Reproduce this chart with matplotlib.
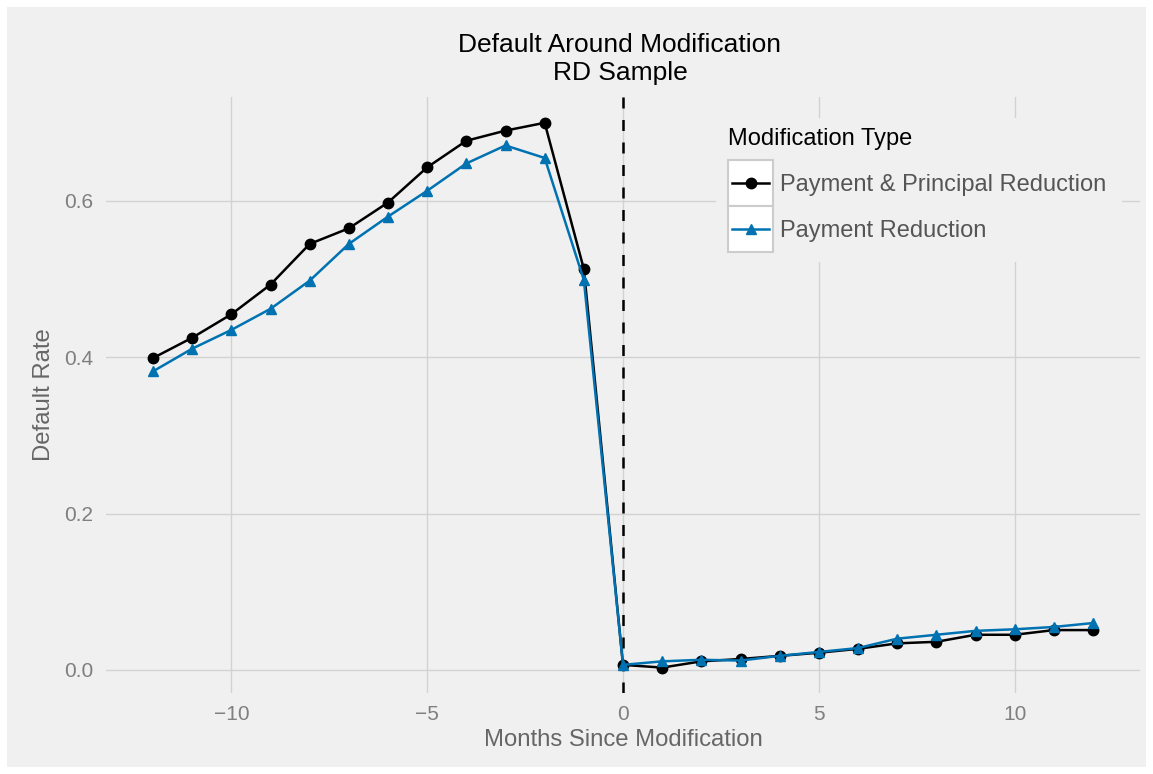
import numpy as np
import matplotlib
matplotlib.use('Agg')
import matplotlib.pyplot as plt
from matplotlib.patches import Rectangle
from matplotlib.lines import Line2D

plt.rcParams['font.family'] = ['Liberation Sans', 'DejaVu Sans']

# Data
months = list(range(-12, 13))
pay_principal = [0.399, 0.425, 0.455, 0.493, 0.545, 0.565, 0.598, 0.643, 0.677, 0.690, 0.700, 0.513,
                 0.0065, 0.003, 0.011, 0.014, 0.018, 0.022, 0.027, 0.034, 0.036, 0.045, 0.045, 0.051, 0.051]
pay_only = [0.382, 0.411, 0.435, 0.462, 0.498, 0.545, 0.580, 0.613, 0.648, 0.671, 0.655, 0.499,
            0.0065, 0.011, 0.013, 0.012, 0.018, 0.023, 0.028, 0.040, 0.045, 0.050, 0.052, 0.055, 0.060]
series_names = ["Payment & Principal Reduction", "Payment Reduction"]
series_colors = ["#000000", "#0072B2"]
series_markers = ["o", "^"]

bg = "#F0F0F0"
W, H = 1153, 774
fig = plt.figure(figsize=(W / 100, H / 100), dpi=100, facecolor="white")
fig.patches.append(Rectangle((7 / W, 7 / H), (W - 14) / W, (H - 14) / H,
                             transform=fig.transFigure, facecolor=bg, edgecolor="none", zorder=-5))

# axes placed in pixel terms
left, right, top, bottom = 106, 1140, 97, 693
ax = fig.add_axes([left / W, 1 - bottom / H, (right - left) / W, (bottom - top) / H])
ax.set_facecolor(bg)
for s in ax.spines.values():
    s.set_visible(False)

ax.set_xlim(-13.2, 13.2)
ax.set_ylim(-0.0295, 0.733)
ax.set_xticks([-10, -5, 0, 5, 10])
ax.set_xticklabels(["\u221210", "\u22125", "0", "5", "10"])
ax.set_yticks([0.0, 0.2, 0.4, 0.6])
ax.set_yticklabels(["0.0", "0.2", "0.4", "0.6"])
ax.grid(True, color="#D2D2D2", linewidth=1.0)
ax.set_axisbelow(True)
ax.tick_params(length=0, labelsize=15, colors="#7F7F7F", pad=9)

ax.axvline(0, color="black", linestyle=(0, (4.4, 4.6)), linewidth=1.8, zorder=2)

for ys, c, m in zip([pay_principal, pay_only], series_colors, series_markers):
    ax.plot(months, ys, color=c, linewidth=1.8, marker=m, markersize=7.5, zorder=3)

ax.set_xlabel("Months Since Modification", fontsize=17.2, color="#666666", labelpad=3)
ax.set_ylabel("Default Rate", fontsize=17.2, color="#666666", labelpad=7)

fig.text(620 / W, 1 - 45 / H, "Default Around Modification", ha="center", va="center",
         fontsize=19, color="black")
fig.text(620 / W, 1 - 73 / H, "RD Sample", ha="center", va="center", fontsize=19, color="black")

# legend drawn by hand in figure pixel coordinates
def fx(px):
    return px / W

def fy(py):
    return 1 - py / H

fig.patches.append(Rectangle((fx(716), fy(262)), fx(1122) - fx(716), fy(118) - fy(262),
                             transform=fig.transFigure, facecolor=bg, edgecolor="none", zorder=5))
fig.text(fx(728), fy(139), "Modification Type", ha="left", va="center", fontsize=17, color="black",
         zorder=6)
for i, (name, c, m) in enumerate(zip(series_names, series_colors, series_markers)):
    y0 = 160 + i * 46
    fig.patches.append(Rectangle((fx(728), fy(y0 + 46)), fx(773) - fx(728), fy(y0) - fy(y0 + 46),
                                 transform=fig.transFigure, facecolor="white", edgecolor="#CCCCCC",
                                 linewidth=1.5, zorder=6))
    yc = fy(y0 + 23)
    fig.lines.append(Line2D([fx(732), fx(769)], [yc, yc], color=c, linewidth=1.8, marker=None,
                            transform=fig.transFigure, zorder=7))
    fig.lines.append(Line2D([fx(750.5)], [yc], color=c, marker=m, markersize=7.5,
                            transform=fig.transFigure, zorder=8))
    fig.text(fx(780), fy(y0 + 25), name, ha="left", va="center", fontsize=17, color="#555555",
             zorder=7)

fig.savefig("out.png", dpi=100, facecolor="white")
